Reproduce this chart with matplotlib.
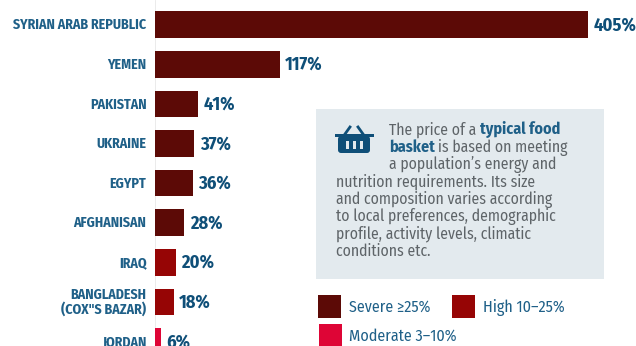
"""Food basket price change by country."""
import matplotlib

matplotlib.use("Agg")
import matplotlib.pyplot as plt
from matplotlib.patches import FancyBboxPatch, Rectangle

paises = [
    "SYRIAN ARAB REPUBLIC", "YEMEN", "PAKISTAN", "UKRAINE", "EGYPT",
    "AFGHANISAN", "IRAQ", "BANGLADESH\n(COX\"S BAZAR)", "JORDAN",
]
valores = [405, 117, 41, 37, 36, 28, 20, 18, 6]
niveis = ["severe", "severe", "severe", "severe", "severe", "severe",
          "high", "high", "moderate"]
cores = {"severe": "#5C0A06", "high": "#960505", "moderate": "#DE0536"}
legenda = [("severe", "Severe ≥25%"), ("high", "High 10–25%"),
           ("moderate", "Moderate 3–10%")]

AZUL = "#0F4F78"
AZUL_CLARO = "#1F6088"
CINZA = "#5E6468"
CONDENSADA = ["Fira Sans Condensed", "Roboto Condensed", "DejaVu Sans"]

L, A = 636, 346
fig = plt.figure(figsize=(L / 100, A / 100), dpi=100)

# escala: x=0 em 154.5 px, 1.07 px por ponto percentual
eixo = fig.add_axes([0, 0, 1, 1])
eixo.set_xlim(-154.5 / 1.07, (L - 154.5) / 1.07)
eixo.set_ylim((A - 24.7) / 39.6, -24.7 / 39.6)
eixo.barh(range(len(paises)), valores, height=0.67,
          color=[cores[n] for n in niveis])
eixo.xaxis.set_visible(False)
eixo.yaxis.set_visible(False)
for lado in eixo.spines.values():
    lado.set_visible(False)
eixo.axvline(0, color="#E8E8E8", lw=0.6, zorder=0)
for i, (pais, valor) in enumerate(zip(paises, valores)):
    eixo.annotate(pais, (0, i), xytext=(-5.8, -0.4), textcoords="offset points",
                  ha="right", va="center", ma="right", family=CONDENSADA,
                  weight="bold", fontsize=10, linespacing=1.0,
                  color=AZUL_CLARO, annotation_clip=False)
    eixo.annotate(f"{valor}%", (valor, i), xytext=(4, -0.4),
                  textcoords="offset points", va="center", family=CONDENSADA,
                  weight="bold", fontsize=13.2, color=AZUL, annotation_clip=False)

# camada em pixels para o painel e a legenda
pai = fig.add_axes([0, 0, 1, 1], facecolor="none")
pai.set_xlim(0, L)
pai.set_ylim(A, 0)
pai.axis("off")
pai.add_patch(Rectangle((316, 109), 288, 170, color="#E3EAEE", lw=0))

# cesta
pai.add_patch(FancyBboxPatch((338, 136), 32, 17, boxstyle="round,pad=0,rounding_size=3",
                             color=AZUL, lw=0))
pai.add_patch(Rectangle((334.5, 134), 39, 3, color=AZUL, lw=0))
pai.plot([345, 350], [134, 127], color=AZUL, lw=2)
pai.plot([363, 358], [134, 127], color=AZUL, lw=2)
for xb in (346, 353, 360):
    pai.add_patch(Rectangle((xb, 141), 2.6, 8, color="#E3EAEE", lw=0))

texto = dict(family=CONDENSADA, fontsize=11.3, color=CINZA, va="center")
negrito = dict(family=CONDENSADA, fontsize=11.5, color=AZUL_CLARO, va="center", weight="bold")
pai.text(389, 129.5, "The price of a", **texto)
pai.text(480, 129.5, "typical food", **negrito)
pai.text(389, 147, "basket", **negrito)
pai.text(438, 147, "is based on meeting", **texto)
pai.text(389, 164.5, "a population’s energy and", **texto)
linhas = ["nutrition requirements. Its size", "and composition varies according",
          "to local preferences, demographic", "profile, activity levels, climatic",
          "conditions etc."]
for i, linha in enumerate(linhas):
    pai.text(336, 182 + i * 17.4, linha, **texto)

# legenda
posicoes = [(318, 295, 349), (452, 295, 483), (319, 324, 349)]
for (nivel, nome), (xq, yq, xt) in zip(legenda, posicoes):
    pai.add_patch(Rectangle((xq, yq), 23, 23, color=cores[nivel], lw=0))
    pai.text(xt, yq + 12, nome, family=CONDENSADA, fontsize=11.5, color=AZUL_CLARO, va="center")

fig.savefig("out.png", dpi=100)
plt.close(fig)
